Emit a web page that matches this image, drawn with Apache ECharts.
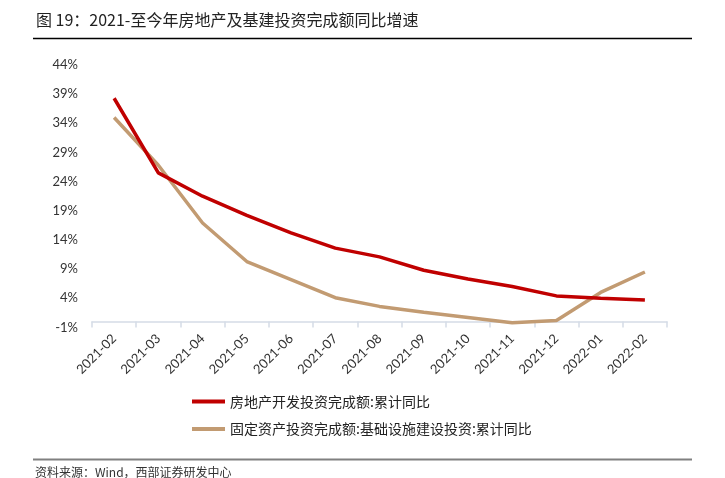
<!DOCTYPE html>
<html>
<head>
<meta charset="utf-8">
<script src="https://cdn.jsdelivr.net/npm/echarts@6/dist/echarts.min.js"></script>
<style>
html,body{margin:0;padding:0;background:#fff;}
#chart{width:725px;height:478px;}
</style>
</head>
<body>
<div id="chart"></div>
<script>
var categories = ['2021-02','2021-03','2021-04','2021-05','2021-06','2021-07','2021-08','2021-09','2021-10','2021-11','2021-12','2022-01','2022-02'];
var realEstate = [38.3, 25.5, 21.5, 18.2, 15.2, 12.6, 11.1, 8.8, 7.3, 6.0, 4.4, 4.0, 3.7];
var infra = [35.0, 26.8, 16.9, 10.3, 7.2, 4.1, 2.6, 1.6, 0.7, -0.2, 0.2, 5.0, 8.5];
var seriesNames = ['房地产开发投资完成额:累计同比', '固定资产投资完成额:基础设施建设投资:累计同比'];
var titleText = '图 19：2021-至今年房地产及基建投资完成额同比增速';
var sourceText = '资料来源：Wind，西部证券研发中心';

var chart = echarts.init(document.getElementById('chart'));
var cjk = '"Noto Sans CJK SC", sans-serif';
var latin = 'Lato, "Noto Sans", sans-serif';
chart.setOption({
  animation: false,
  backgroundColor: '#ffffff',
  grid: {left: 92, right: 58, top: 65, bottom: 150.6, containLabel: false},
  legend: [
    {data: [seriesNames[0]], left: 192, top: 394.5, padding: 0, icon: 'rect', itemWidth: 33, itemHeight: 4, itemGap: 4,
     textStyle: {fontFamily: cjk, fontSize: 14, color: '#222'}},
    {data: [seriesNames[1]], left: 192, top: 422, padding: 0, icon: 'rect', itemWidth: 33, itemHeight: 4, itemGap: 4,
     textStyle: {fontFamily: cjk, fontSize: 14, color: '#222'}}
  ],
  xAxis: {
    type: 'category',
    data: categories,
    boundaryGap: true,
    axisLine: {onZero: true, lineStyle: {color: '#d5dce6', width: 1.5}},
    axisTick: {show: true, length: 6, lineStyle: {color: '#d5dce6', width: 1.5}},
    axisLabel: {interval: 0, rotate: 45, margin: 9, fontFamily: latin, fontSize: 13, color: '#333'},
    splitLine: {show: false}
  },
  yAxis: {
    type: 'value',
    min: -1, max: 44, interval: 5,
    axisLine: {show: false},
    axisTick: {show: false},
    splitLine: {show: false},
    axisLabel: {formatter: '{value}%', margin: 14, fontFamily: latin, fontSize: 13, color: '#333', padding: [4,0,0,0]}
  },
  series: [
    {name: seriesNames[0], type: 'line', data: realEstate, showSymbol: false, symbol: 'none',
     lineStyle: {color: '#c00000', width: 3.5}, itemStyle: {color: '#c00000'}, z: 3},
    {name: seriesNames[1], type: 'line', data: infra, showSymbol: false, symbol: 'none',
     lineStyle: {color: '#c29b72', width: 3.5}, itemStyle: {color: '#c29b72'}, z: 2}
  ],
  graphic: [
    {type: 'text', left: 36, top: 12, style: {text: titleText, fontFamily: cjk, fontSize: 16, fill: '#222'}},
    {type: 'line', shape: {x1: 33, y1: 38.5, x2: 692, y2: 38.5}, style: {stroke: '#000', lineWidth: 1.3}},
    {type: 'line', shape: {x1: 33, y1: 459.5, x2: 692, y2: 459.5}, style: {stroke: '#808080', lineWidth: 2}},
    {type: 'text', left: 35, top: 466, style: {text: sourceText, fontFamily: cjk, fontSize: 12, fill: '#333'}}
  ]
});
</script>
</body>
</html>
